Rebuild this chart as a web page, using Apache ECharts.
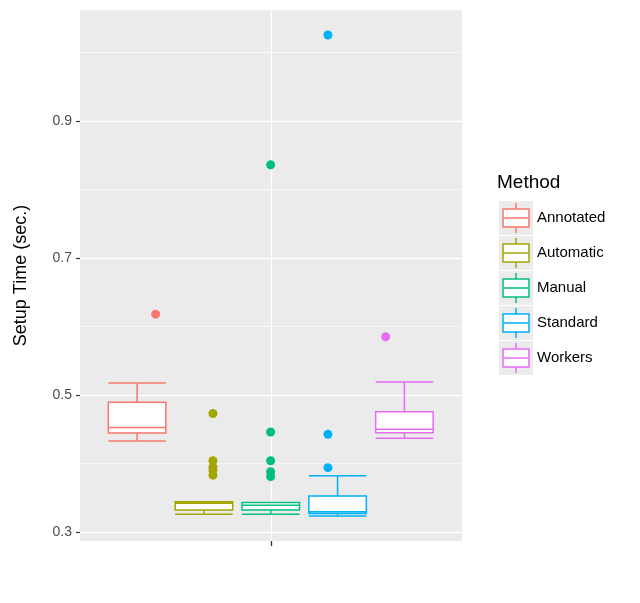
<!DOCTYPE html>
<html><head><meta charset="utf-8">
<script src="https://cdn.jsdelivr.net/npm/echarts@6/dist/echarts.min.js"></script>
<style>body{margin:0}#c{width:640px;height:603px}</style></head>
<body><div id="c"></div>
<script>
var chart = echarts.init(document.getElementById('c'));
var methods = ['Annotated', 'Automatic', 'Manual', 'Standard', 'Workers'];
var colors = ['#F8766D', '#A3A500', '#00BF7D', '#00B0F6', '#E76BF3'];
// [lower whisker, q1, median, q3, upper whisker]
var boxStats = [
  [0.433, 0.4445, 0.4527, 0.4895, 0.5176],
  [0.326, 0.332, 0.342, 0.3443, 0.3443],
  [0.326, 0.332, 0.339, 0.343, 0.343],
  [0.3234, 0.327, 0.3297, 0.3526, 0.382],
  [0.4368, 0.445, 0.450, 0.4757, 0.519]
];
var outliers = [
  [0.618],
  [0.473, 0.404, 0.395, 0.390, 0.383],
  [0.836, 0.446, 0.404, 0.388, 0.381],
  [1.0255, 0.4426, 0.394],
  [0.585]
];
var dodgePos = [0.198, 0.348, 0.499, 0.649, 0.80];
var yTicks = [0.3, 0.5, 0.7, 0.9];
var yMinor = [0.4, 0.6, 0.8, 1.0];
var yMin = 0.2869, yMax = 1.062;

var series = [];
methods.forEach(function (m, i) {
  var d = methods.map(function (_, j) { return j === i ? boxStats[i] : '-'; });
  series.push({
    type: 'boxplot', name: m, xAxisIndex: 0, yAxisIndex: 0, z: 5,
    boxWidth: ['100%', '100%'], data: d,
    itemStyle: { color: '#fff', borderColor: colors[i], borderWidth: 1.5 }
  });
  series.push({
    type: 'scatter', xAxisIndex: 1, yAxisIndex: 1, z: 6, symbolSize: 9,
    itemStyle: { color: colors[i], opacity: 1 },
    data: outliers[i].map(function (v) { return [dodgePos[i], v]; })
  });
});
// grid lines
var gl = [];
yTicks.forEach(function (v) { gl.push({ yAxis: v, lineStyle: { width: 1.3 } }); });
yMinor.forEach(function (v) { gl.push({ yAxis: v, lineStyle: { width: 0.6 } }); });
gl.push({ xAxis: 0.5, lineStyle: { width: 1.3 } });
series.push({
  type: 'scatter', xAxisIndex: 1, yAxisIndex: 1, data: [], z: 1,
  markLine: { silent: true, symbol: 'none', label: { show: false },
    lineStyle: { color: '#fff', type: 'solid' }, data: gl }
});

var legendG = [{ type: 'text', left: 497, top: 173, style: { text: 'Method', fontSize: 19, fill: '#000', fontFamily: 'Liberation Sans' } }];
methods.forEach(function (m, i) {
  var y0 = 201 + i * 35;
  legendG.push({ type: 'rect', shape: { x: 499, y: y0, width: 34, height: 34 }, style: { fill: '#EBEBEB' } });
  legendG.push({ type: 'line', shape: { x1: 516, y1: y0 + 2, x2: 516, y2: y0 + 32 }, style: { stroke: colors[i], lineWidth: 1.5 } });
  legendG.push({ type: 'rect', shape: { x: 503, y: y0 + 8, width: 26, height: 18 }, style: { fill: '#fff', stroke: colors[i], lineWidth: 1.5 } });
  legendG.push({ type: 'line', shape: { x1: 503, y1: y0 + 17, x2: 529, y2: y0 + 17 }, style: { stroke: colors[i], lineWidth: 1.5 } });
  legendG.push({ type: 'text', left: 537, top: y0 + 9, style: { text: m, fontSize: 15, fill: '#000', fontFamily: 'Liberation Sans' } });
});

chart.setOption({
  animation: false,
  textStyle: { fontFamily: 'Liberation Sans' },
  grid: [
    { left: 127, right: 225.5, top: 10, bottom: 62 },
    { left: 80, right: 178, top: 10, bottom: 62, show: true, backgroundColor: '#EBEBEB', borderWidth: 0 }
  ],
  xAxis: [
    { type: 'category', gridIndex: 0, data: methods, show: false },
    { type: 'value', gridIndex: 1, min: 0, max: 1, splitLine: { show: false },
      axisLine: { show: false },
      axisTick: { length: 5, lineStyle: { color: '#333', width: 1.3 }, customValues: [0.5] },
      axisLabel: { customValues: [0.5], formatter: function () { return ''; } } }
  ],
  yAxis: [
    { type: 'value', gridIndex: 0, min: yMin, max: yMax, show: false },
    { type: 'value', gridIndex: 1, min: yMin, max: yMax, splitLine: { show: false },
      axisLine: { show: false },
      axisTick: { show: true, length: 4, lineStyle: { color: '#333', width: 1.2 }, customValues: yTicks },
      axisLabel: { customValues: yTicks, color: '#4d4d4d', fontSize: 14, margin: 8,
        formatter: function (v) { return v.toFixed(1); } },
      name: 'Setup Time (sec.)', nameLocation: 'middle', nameGap: 50, nameRotate: 90,
      nameTextStyle: { fontSize: 18, color: '#000' } }
  ],
  graphic: legendG,
  series: series
});
</script></body></html>
